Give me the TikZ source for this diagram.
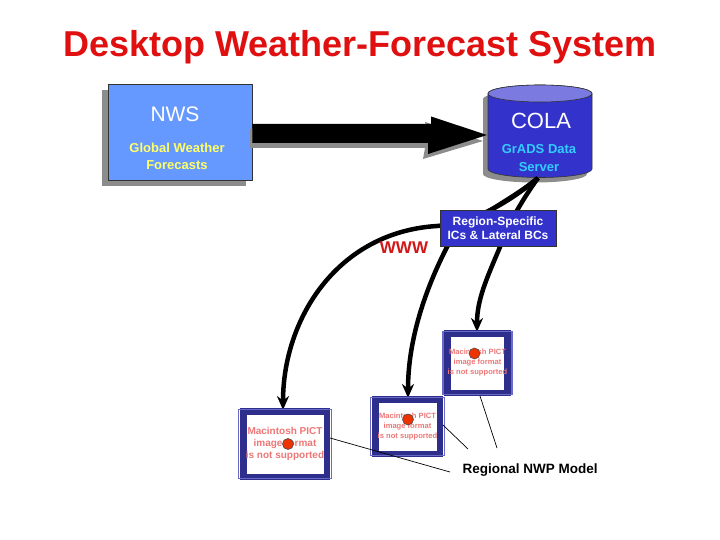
\documentclass[tikz,border=0pt]{standalone}
\usepackage{fontspec}
\setmainfont{Liberation Sans}
\usetikzlibrary{arrows.meta}
\definecolor{titlered}{HTML}{E01010}
\definecolor{nwsblue}{HTML}{6699FF}
\definecolor{colablue}{HTML}{3333CC}
\definecolor{colatop}{HTML}{7A7AE0}
\definecolor{navy}{HTML}{2E2E8C}
\definecolor{bevel}{HTML}{6A6AC8}
\definecolor{pinktxt}{HTML}{EE7777}
\definecolor{dotred}{HTML}{EE3300}
\definecolor{yell}{HTML}{FFFF66}
\definecolor{cyantxt}{HTML}{33CCFF}
\definecolor{shadowgray}{HTML}{8C8C8C}
\definecolor{wwwred}{HTML}{D01818}
\tikzset{
  curve/.style={line width=4.5, -{Stealth[length=14pt,width=12pt]}},
  pictframe/.style={draw=navy, line width=6.5, fill=white, inner sep=0pt, align=center, text=pinktxt},
  reddot/.style={circle, fill=dotred, draw=black!70, line width=0.6, minimum size=11pt, inner sep=0pt},
  thinline/.style={line width=0.7, black},
}
\begin{document}
\begin{tikzpicture}[x=1pt,y=-1pt]
\useasboundingbox (0,0) rectangle (720,540);
\fill[white] (0,0) rectangle (720,540);
% title
\node[anchor=base, text=titlered, font=\fontsize{36}{40}\selectfont\bfseries] (title) at (360,57) {Desktop Weather-Forecast System};

% NWS box with shadow
\fill[shadowgray] (102,90) rectangle (246,186);
\node[draw=black!80, line width=0.6, fill=nwsblue, minimum width=144pt, minimum height=96pt, inner sep=0pt] (nws) at (180,132) {};
\node[text=white, font=\fontsize{21}{24}\selectfont] (nwst) at (175,114.5) {NWS};
\node[text=yell, font=\fontsize{13}{17}\selectfont\bfseries, align=center] (nwss) at (177,156.5) {Global Weather\\Forecasts};

% COLA cylinder with shadow
\fill[shadowgray] (483,99) -- (483,174) arc[start angle=180, end angle=0, x radius=52, y radius=8.5] -- (587,99) arc[start angle=0, end angle=-180, x radius=52, y radius=8.5] -- cycle;
\draw[black!80, line width=0.6, fill=colablue] (488,93.5) -- (488,169) arc[start angle=180, end angle=0, x radius=52, y radius=8.5] -- (592,93.5) arc[start angle=0, end angle=-180, x radius=52, y radius=8.5] -- cycle;
\draw[black!80, line width=0.6, fill=colatop] (540,93.5) ellipse[x radius=52, y radius=8.5];
\node[text=white, font=\fontsize{22}{24}\selectfont] (colat) at (541,120.5) {COLA};
\node[text=cyantxt, font=\fontsize{13}{17.5}\selectfont\bfseries, align=center] (colas) at (539,158) {GrADS Data\\Server};
\coordinate (colabot) at (538,178);
\coordinate (colaleft) at (487,135);

% big arrow NWS -> COLA
\fill[shadowgray] (250,129) -- (427,129) -- (425,122) -- (483,141) -- (423,159) -- (425,148) -- (250,148) -- cycle;
\fill[black] (nws.east |- 0,124) -- (431,124) -- (431,116.5) -- (colaleft) -- (428,154) -- (428,143) -- (nws.east |- 0,143) -- cycle;

% curves from COLA
\draw[curve] (colabot) .. controls (500,210) and (465,224) .. (437,226) .. controls (338,232) and (283,318) .. (283,410);
\draw[curve] (colabot) .. controls (508,203) and (462,222) .. (447,247) .. controls (425,290) and (408,340) .. (408,398);
\draw[curve] (colabot) .. controls (522,200) and (506,228) .. (500,247) .. controls (486,280) and (477,300) .. (477,332);

% region-specific box
\node[draw=black!80, line width=0.6, fill=colablue, minimum width=116pt, minimum height=36pt, inner sep=0pt, text=white, font=\fontsize{12}{14}\selectfont\bfseries, align=center] (rs) at (498,228) {Region-Specific\\ICs \& Lateral BCs};

% WWW
\node[text=wwwred, font=\fontsize{17}{20}\selectfont\bfseries] (www) at (404,248) {WWW};

% picture frames
\node[pictframe, minimum width=83.5pt, minimum height=65.5pt, font=\fontsize{10}{11.7}\selectfont\bfseries] (picA) at (285,444) {Macintosh PICT\\image format\\is not supported};
\node[pictframe, minimum width=64.5pt, minimum height=54.5pt, font=\fontsize{7.6}{9.6}\selectfont\bfseries] (picB) at (407.5,426.5) {Macintosh PICT\\image format\\is not supported};
\node[pictframe, minimum width=58.5pt, minimum height=59.5pt, font=\fontsize{7.6}{10}\selectfont\bfseries] (picC) at (477.5,363) {Macintosh PICT\\image format\\is not supported};
\foreach \p in {picA,picB,picC}{
  \draw[bevel, line width=1.2] ([shift={(-1.5,1.5)}]\p.north west) rectangle ([shift={(1.5,-1.5)}]\p.south east);
}
\node[reddot] (dotA) at (288,444) {};
\node[reddot] (dotB) at (408,419.5) {};
\node[reddot] (dotC) at (474.5,353.5) {};

% label and leader lines
\node[anchor=base west, font=\fontsize{13.5}{16}\selectfont\bfseries] (rnwp) at (459,473) {Regional NWP Model};
\coordinate (lA) at (450,472);
\coordinate (lB) at (468,449);
\coordinate (lC) at (497,448);
\draw[thinline] ([yshift=6]picA.east) -- (lA);
\draw[thinline] ([yshift=1.5]picB.east) -- (lB);
\draw[thinline] ([xshift=2.5]picC.south) -- (lC);
\end{tikzpicture}
\end{document}
